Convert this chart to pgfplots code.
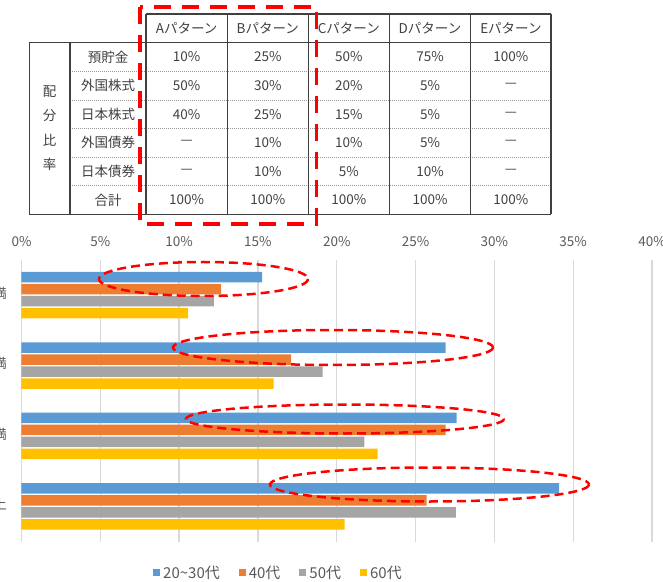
\documentclass[border=0pt]{standalone}
\usepackage{fontspec}
\setmainfont{Noto Sans CJK JP}
\usepackage{pgfplots}
\pgfplotsset{compat=1.18}
\definecolor{cblue}{HTML}{5B9BD5}
\definecolor{corange}{HTML}{ED7D31}
\definecolor{cgray}{HTML}{A5A5A5}
\definecolor{cyellow}{HTML}{FFC000}
\definecolor{tline}{HTML}{404040}
\definecolor{ttext}{HTML}{404040}
\definecolor{atext}{HTML}{595959}
\definecolor{gridc}{HTML}{D9D9D9}
\begin{document}
\begin{tikzpicture}
\useasboundingbox (0pt,0pt) rectangle (663pt,581pt);
\clip (0pt,0pt) rectangle (663pt,581pt);
% ---------------- table ----------------
\begin{scope}[x=1pt, y=1pt, shift={(0pt,581pt)}, yscale=-1]
  \foreach \yy in {71.3,99.9,128.5,157.1,185.7}
    \draw[gray!80, line width=0.6pt, dash pattern=on 1pt off 1pt] (70,\yy) -- (551,\yy);
  \draw[tline, line width=1.2pt] (146,14) -- (551,14);
  \draw[tline, line width=1.4pt] (29.3,42.7) -- (551,42.7);
  \draw[tline, line width=1.4pt] (29.3,214.3) -- (551,214.3);
  \draw[tline, line width=1.2pt] (29.3,42.7) -- (29.3,214.3);
  \draw[tline, line width=1.2pt] (70,42.7) -- (70,214.3);
  \foreach \xx in {146,227.3,308.3,389.3,470.7,551}
    \draw[tline, line width=1.2pt] (\xx,14) -- (\xx,214.3);
  \begin{scope}[every node/.style={font=\fontsize{13.5}{16}\selectfont, text=ttext, inner sep=0pt}]
    \node at (186.7,28.4) {Aパターン};
    \node at (267.8,28.4) {Bパターン};
    \node at (348.8,28.4) {Cパターン};
    \node at (430.0,28.4) {Dパターン};
    \node at (510.9,28.4) {Eパターン};
    \node at (49.5,92) {配};
    \node at (49.5,116) {分};
    \node at (49.5,140) {比};
    \node at (49.5,164) {率};
    \node at (108,57.0) {預貯金};
    \node at (108,85.6) {外国株式};
    \node at (108,114.2) {日本株式};
    \node at (108,142.8) {外国債券};
    \node at (108,171.4) {日本債券};
    \node at (108,200.0) {合計};
    % A
    \node at (186.7,57.0) {10\%};
    \node at (186.7,85.6) {50\%};
    \node at (186.7,114.2) {40\%};
    \node at (186.7,142.8) {—};
    \node at (186.7,171.4) {—};
    \node at (186.7,200.0) {100\%};
    % B
    \node at (267.8,57.0) {25\%};
    \node at (267.8,85.6) {30\%};
    \node at (267.8,114.2) {25\%};
    \node at (267.8,142.8) {10\%};
    \node at (267.8,171.4) {10\%};
    \node at (267.8,200.0) {100\%};
    % C
    \node at (348.8,57.0) {50\%};
    \node at (348.8,85.6) {20\%};
    \node at (348.8,114.2) {15\%};
    \node at (348.8,142.8) {10\%};
    \node at (348.8,171.4) {5\%};
    \node at (348.8,200.0) {100\%};
    % D
    \node at (430.0,57.0) {75\%};
    \node at (430.0,85.6) {5\%};
    \node at (430.0,114.2) {5\%};
    \node at (430.0,142.8) {5\%};
    \node at (430.0,171.4) {10\%};
    \node at (430.0,200.0) {100\%};
    % E
    \node at (510.9,57.0) {100\%};
    \node at (510.9,85.6) {—};
    \node at (510.9,114.2) {—};
    \node at (510.9,142.8) {—};
    \node at (510.9,171.4) {—};
    \node at (510.9,200.0) {100\%};
  \end{scope}
  \draw[red, line width=3.3pt, dash pattern=on 17pt off 11pt] (140,7) rectangle (316.5,224);
\end{scope}
% ---------------- chart ----------------
\begin{axis}[
  at={(21.5pt,39.5pt)}, anchor=south west,
  scale only axis, width=630.5pt, height=281.5pt,
  xbar, bar width=10.5pt,
  xmin=0, xmax=40, ymin=-0.5, ymax=3.5,
  xtick={0,5,10,15,20,25,30,35,40},
  xticklabels={0\%,5\%,10\%,15\%,20\%,25\%,30\%,35\%,40\%},
  xticklabel pos=upper,
  xticklabel style={anchor=center, yshift=18.5pt, font=\fontsize{13.5}{16}\selectfont, text=atext},
  ytick={0,1,2,3},
  yticklabels={700万円以上,500～700万円未満,300～500万円未満,300万円未満},
  yticklabel style={anchor=east, xshift=-11pt, yshift=2pt, font=\fontsize{13.5}{16}\selectfont, text=atext},
  axis line style={draw=none},
  major tick length=0pt,
  tick style={draw=none},
  xmajorgrids, ymajorgrids=false,
  major grid style={draw=gridc, line width=1.3pt},
  legend columns=4,
  legend style={at={(0.4084,-0.1108)}, anchor=center, draw=none, fill=none,
    font=\fontsize{15}{18}\selectfont, text=atext,
    nodes={inner xsep=3pt},
    /tikz/every even column/.append style={column sep=16pt}},
  legend image code/.code={\fill[#1] (0pt,-3.5pt) rectangle (7pt,3.5pt);},
]
\addplot[fill=cblue, draw=none, bar shift=18pt] coordinates {(15.26,3) (26.9,2) (27.6,1) (34.1,0)};
\addplot[fill=corange, draw=none, bar shift=6pt] coordinates {(12.66,3) (17.1,2) (26.9,1) (25.7,0)};
\addplot[fill=cgray, draw=none, bar shift=-6pt] coordinates {(12.2,3) (19.1,2) (21.75,1) (27.55,0)};
\addplot[fill=cyellow, draw=none, bar shift=-18pt] coordinates {(10.57,3) (16.0,2) (22.6,1) (20.5,0)};
\legend{20\textasciitilde30代,40代,50代,60代}
\end{axis}
% ---------------- ellipses ----------------
\begin{scope}[x=1pt, y=1pt, shift={(0pt,581pt)}, yscale=-1]
  \draw[red, line width=2.5pt, dash pattern=on 9pt off 5pt] (203.5,279) ellipse [x radius=104.5, y radius=17];
  \draw[red, line width=2.5pt, dash pattern=on 9pt off 5pt] (333,347.5) ellipse [x radius=160, y radius=17.5];
  \draw[red, line width=2.5pt, dash pattern=on 9pt off 5pt] (345,419) ellipse [x radius=159, y radius=14.5];
  \draw[red, line width=2.5pt, dash pattern=on 9pt off 5pt] (429.5,484.5) ellipse [x radius=159.5, y radius=17];
\end{scope}
\end{tikzpicture}
\end{document}
